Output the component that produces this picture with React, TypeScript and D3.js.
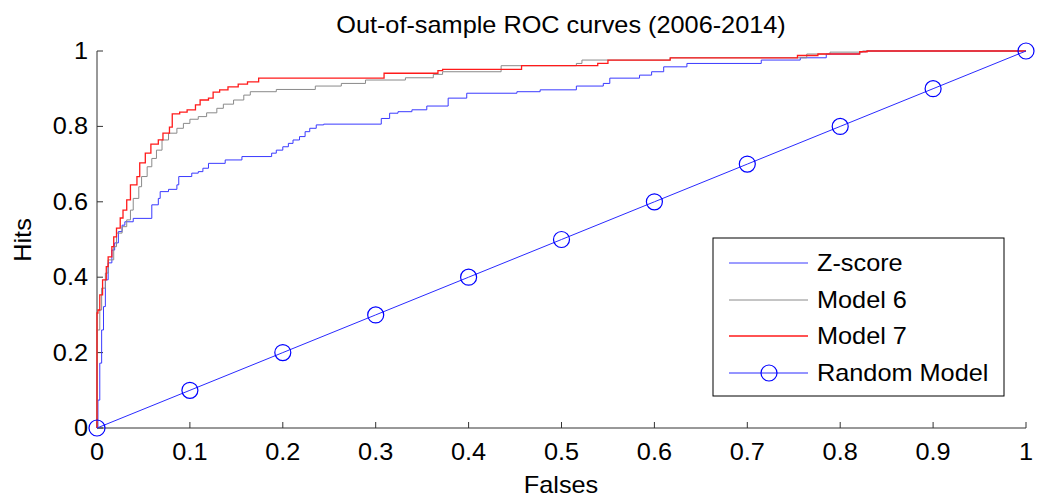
import React from "react";
import * as d3 from "d3";

// ROC points [false rate, hit rate]
const zScore: [number, number][] = [
  [0, 0], [0.001, 0.074], [0.003, 0.172], [0.005, 0.26], [0.007, 0.322], [0.009, 0.393],
  [0.012, 0.438], [0.016, 0.472], [0.019, 0.491], [0.023, 0.521], [0.027, 0.538],
  [0.03, 0.547], [0.039, 0.556], [0.059, 0.592], [0.066, 0.609], [0.068, 0.627],
  [0.077, 0.633], [0.086, 0.645], [0.088, 0.667], [0.102, 0.676], [0.109, 0.68],
  [0.114, 0.689], [0.12, 0.702], [0.138, 0.711], [0.156, 0.72], [0.188, 0.729],
  [0.193, 0.737], [0.2, 0.746], [0.206, 0.755], [0.211, 0.764], [0.218, 0.773],
  [0.224, 0.786], [0.229, 0.795], [0.236, 0.804], [0.244, 0.806], [0.306, 0.821],
  [0.315, 0.835], [0.324, 0.839], [0.339, 0.844], [0.355, 0.854], [0.378, 0.875],
  [0.398, 0.888], [0.452, 0.892], [0.477, 0.897], [0.516, 0.907], [0.545, 0.914],
  [0.552, 0.928], [0.584, 0.936], [0.597, 0.945], [0.61, 0.958], [0.635, 0.967],
  [0.715, 0.976], [0.757, 0.982], [0.785, 0.992], [0.821, 0.998], [0.828, 1], [1, 1],
];

const model6: [number, number][] = [
  [0, 0], [0, 0.26], [0.003, 0.313], [0.005, 0.371], [0.009, 0.411], [0.012, 0.446],
  [0.018, 0.481], [0.021, 0.517], [0.027, 0.534], [0.032, 0.552], [0.036, 0.578],
  [0.039, 0.609], [0.045, 0.64], [0.048, 0.667], [0.054, 0.693], [0.059, 0.715],
  [0.064, 0.737], [0.07, 0.764], [0.077, 0.782], [0.086, 0.795], [0.093, 0.808],
  [0.1, 0.819], [0.109, 0.826], [0.118, 0.836], [0.129, 0.848], [0.136, 0.859],
  [0.147, 0.87], [0.158, 0.883], [0.165, 0.892], [0.193, 0.898], [0.235, 0.907],
  [0.263, 0.914], [0.289, 0.923], [0.332, 0.929], [0.362, 0.938], [0.372, 0.945],
  [0.435, 0.961], [0.516, 0.967], [0.522, 0.976], [0.617, 0.982], [0.764, 0.992],
  [0.789, 0.997], [0.824, 1], [1, 1],
];

const model7: [number, number][] = [
  [0, 0], [0, 0.305], [0.001, 0.313], [0.003, 0.353], [0.006, 0.393], [0.01, 0.428],
  [0.012, 0.454], [0.016, 0.481], [0.018, 0.507], [0.021, 0.53], [0.025, 0.557],
  [0.028, 0.578], [0.032, 0.605], [0.036, 0.645], [0.043, 0.667], [0.046, 0.703],
  [0.052, 0.729], [0.058, 0.753], [0.066, 0.764], [0.071, 0.782], [0.078, 0.798],
  [0.081, 0.833], [0.089, 0.838], [0.097, 0.844], [0.106, 0.857], [0.111, 0.87],
  [0.12, 0.875], [0.125, 0.891], [0.132, 0.897], [0.141, 0.905], [0.152, 0.912],
  [0.162, 0.918], [0.174, 0.928], [0.309, 0.941], [0.367, 0.948], [0.372, 0.951],
  [0.457, 0.961], [0.539, 0.967], [0.55, 0.976], [0.617, 0.982], [0.754, 0.988],
  [0.776, 0.992], [0.821, 0.998], [0.829, 1], [1, 1],
];

const randomModel: [number, number][] = [
  [0, 0], [0.1, 0.1], [0.2, 0.2], [0.3, 0.3], [0.4, 0.4], [0.5, 0.5],
  [0.6, 0.6], [0.7, 0.7], [0.8, 0.8], [0.9, 0.9], [1, 1],
];

const xTicks = [0, 0.1, 0.2, 0.3, 0.4, 0.5, 0.6, 0.7, 0.8, 0.9, 1];
const yTicks = [0, 0.2, 0.4, 0.6, 0.8, 1];
const legendNames = ["Z-score", "Model 6", "Model 7", "Random Model"];

const W = 1038;
const H = 500;
const FONT = "'Liberation Sans', Arial, Helvetica, sans-serif";

const T = ({ x, y, anchor = "start", size = 23, rotate = 0, children }: any) => (
  <text
    transform={`translate(${x},${y})${rotate ? ` rotate(${rotate})` : ""} scale(1.1,1)`}
    textAnchor={anchor}
    fontSize={size}
    fontFamily={FONT}
    fill="#000"
  >
    {children}
  </text>
);

export default function App() {
  const x = d3.scaleLinear().domain([0, 1]).range([97, 1026]);
  const y = d3.scaleLinear().domain([0, 1]).range([428, 51]);

  const step = d3
    .line<[number, number]>()
    .x((d) => x(d[0]))
    .y((d) => y(d[1]))
    .curve(d3.curveStepAfter);
  const straight = d3
    .line<[number, number]>()
    .x((d) => x(d[0]))
    .y((d) => y(d[1]));

  const series = [
    { data: zScore, color: "#3a3aff", width: 1 },
    { data: model6, color: "#8a8a8a", width: 1 },
    { data: model7, color: "#ff1a1a", width: 1.3 },
  ];
  const legendColors = ["#3a3aff", "#8a8a8a", "#ff1a1a", "#2a2aff"];

  const lg = { x: 713, y: 238, w: 291, h: 158 };
  const rowY = [263, 300, 336, 373];

  return (
    <svg
      width={W}
      height={H}
      style={{ position: "absolute", left: 0, top: 0, background: "#fff" }}
    >
      <rect x={0} y={0} width={W} height={H} fill="#fff" />

      {/* axes */}
      <g stroke="#333" strokeWidth={1} fill="none">
        <line x1={x(0)} x2={x(0)} y1={y(1)} y2={y(0)} />
        <line x1={x(0)} x2={x(1)} y1={y(0)} y2={y(0)} />
        {xTicks.map((t) => (
          <line key={"xt" + t} x1={x(t)} x2={x(t)} y1={y(0)} y2={y(0) - 6} />
        ))}
        {yTicks.map((t) => (
          <line key={"yt" + t} x1={x(0)} x2={x(0) + 6} y1={y(t)} y2={y(t)} />
        ))}
      </g>

      {xTicks.map((t) => (
        <T key={"xl" + t} x={x(t)} y={460} anchor="middle">
          {d3.format("~g")(t)}
        </T>
      ))}
      {yTicks.map((t) => (
        <T key={"yl" + t} x={88} y={y(t) + 8} anchor="end">
          {d3.format("~g")(t)}
        </T>
      ))}

      {/* curves */}
      {series.map((s, i) => (
        <path key={i} d={step(s.data) || ""} fill="none" stroke={s.color} strokeWidth={s.width} />
      ))}
      <path d={straight(randomModel) || ""} fill="none" stroke="#2a2aff" strokeWidth={1} />
      {randomModel.map((d, i) => (
        <circle key={"m" + i} cx={x(d[0])} cy={y(d[1])} r={8} fill="none" stroke="#0000ff" strokeWidth={1.2} />
      ))}

      {/* legend */}
      <rect x={lg.x} y={lg.y} width={lg.w} height={lg.h} fill="#fff" stroke="#000" strokeWidth={1} />
      {legendNames.map((n, i) => (
        <g key={n}>
          <line x1={729} x2={808} y1={rowY[i]} y2={rowY[i]} stroke={legendColors[i]} strokeWidth={i === 2 ? 1.3 : 1} />
          {i === 3 && <circle cx={769} cy={rowY[i]} r={8} fill="none" stroke="#0000ff" strokeWidth={1.2} />}
          <T x={817} y={rowY[i] + 8}>{n}</T>
        </g>
      ))}

      <T x={561} y={33} anchor="middle">Out-of-sample ROC curves (2006-2014)</T>
      <T x={561} y={493} anchor="middle">Falses</T>
      <T x={31} y={240} anchor="middle" rotate={-90}>Hits</T>
    </svg>
  );
}
